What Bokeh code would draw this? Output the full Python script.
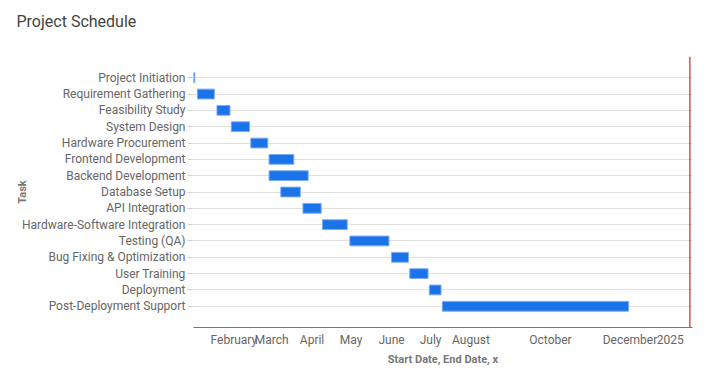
import pandas as pd
from bokeh.plotting import figure
from bokeh.models import ColumnDataSource, FactorRange, FixedTicker, Span, Title
from bokeh.embed import file_html
from bokeh.resources import INLINE

tasks = ["Project Initiation", "Requirement Gathering", "Feasibility Study", "System Design",
         "Hardware Procurement", "Frontend Development", "Backend Development", "Database Setup",
         "API Integration", "Hardware-Software Integration", "Testing (QA)",
         "Bug Fixing & Optimization", "User Training", "Deployment", "Post-Deployment Support"]
start_dates = ["2024-01-01", "2024-01-04", "2024-01-19", "2024-01-30", "2024-02-14",
               "2024-02-28", "2024-02-28", "2024-03-08", "2024-03-25", "2024-04-09",
               "2024-04-30", "2024-06-01", "2024-06-15", "2024-06-30", "2024-07-10"]
end_dates = ["2024-01-02", "2024-01-17", "2024-01-29", "2024-02-13", "2024-02-27",
             "2024-03-18", "2024-03-29", "2024-03-23", "2024-04-08", "2024-04-28",
             "2024-05-30", "2024-06-14", "2024-06-29", "2024-07-09", "2024-11-30"]
tick_dates = ["2024-02-01", "2024-03-01", "2024-04-01", "2024-05-01", "2024-06-01",
              "2024-07-01", "2024-08-01", "2024-10-01", "2024-12-01", "2025-01-01"]
tick_labels = ["February", "March", "April", "May", "June", "July", "August",
               "October", "December", "2025"]
x_start = "2024-01-01"
x_end = "2025-01-18"
marker_date = "2025-01-16"

def ms(d):
    return pd.Timestamp(d).value / 1e6

source = ColumnDataSource(dict(
    task=tasks,
    start=pd.to_datetime(start_dates),
    end=pd.to_datetime(end_dates),
))

FONT = "Roboto"
GREY = "#666666"

p = figure(width=708, height=380, output_backend="svg", toolbar_location=None,
           x_axis_type="datetime",
           y_range=FactorRange(factors=list(reversed(tasks)), range_padding=0.8,
                               range_padding_units="absolute"),
           x_range=(pd.Timestamp(x_start), pd.Timestamp(x_end)),
           min_border_left=193, min_border_right=16, min_border_top=56, min_border_bottom=53)
p.outline_line_color = None

# spacer (added first, so it sits next to the frame), then the real title above it
p.add_layout(Title(text=" ", text_font_size="1px", standoff=16), "above")
p.add_layout(Title(text="Project Schedule", text_font=FONT, text_font_size="16px",
                   text_font_style="normal", text_color="#444444", align="left",
                   vertical_align="top", offset=-177, standoff=10), "above")

p.hbar(y="task", left="start", right="end", height=0.6, source=source,
       fill_color="#1a73e8", line_color="#7fa9f0", line_width=1)

p.add_layout(Span(location=ms(marker_date), dimension="height", line_color="#c62828", line_width=1.2))

p.xgrid.grid_line_color = None
p.ygrid.grid_line_color = "#e0e0e0"

xa = p.xaxis[0]
xa.ticker = FixedTicker(ticks=[ms(d) for d in tick_dates])
xa.major_label_overrides = {ms(d): l for d, l in zip(tick_dates, tick_labels)}
xa.major_tick_line_color = None
xa.major_tick_out = 0
xa.major_tick_in = 0
xa.minor_tick_line_color = None
xa.minor_tick_out = 0
xa.axis_line_color = "#777777"
xa.major_label_text_font = FONT
xa.major_label_text_font_size = "12px"
xa.major_label_text_color = GREY
xa.major_label_standoff = 5
xa.axis_label = "Start Date, End Date, x"
xa.axis_label_text_font = FONT
xa.axis_label_text_font_size = "11px"
xa.axis_label_text_font_style = "bold"
xa.axis_label_text_color = "#777777"
xa.axis_label_standoff = 3

ya = p.yaxis[0]
ya.axis_line_color = None
ya.major_tick_out = 6
ya.major_tick_in = 0
ya.major_tick_line_color = "#d0d0d0"
ya.major_label_standoff = 2
ya.major_label_text_font = FONT
ya.major_label_text_font_size = "12px"
ya.major_label_text_color = GREY
ya.axis_label = "Task"
ya.axis_label_text_font = FONT
ya.axis_label_text_font_size = "11px"
ya.axis_label_text_font_style = "bold"
ya.axis_label_text_color = "#777777"
ya.axis_label_standoff = -10

open("out.html", "w").write(file_html(p, INLINE))
